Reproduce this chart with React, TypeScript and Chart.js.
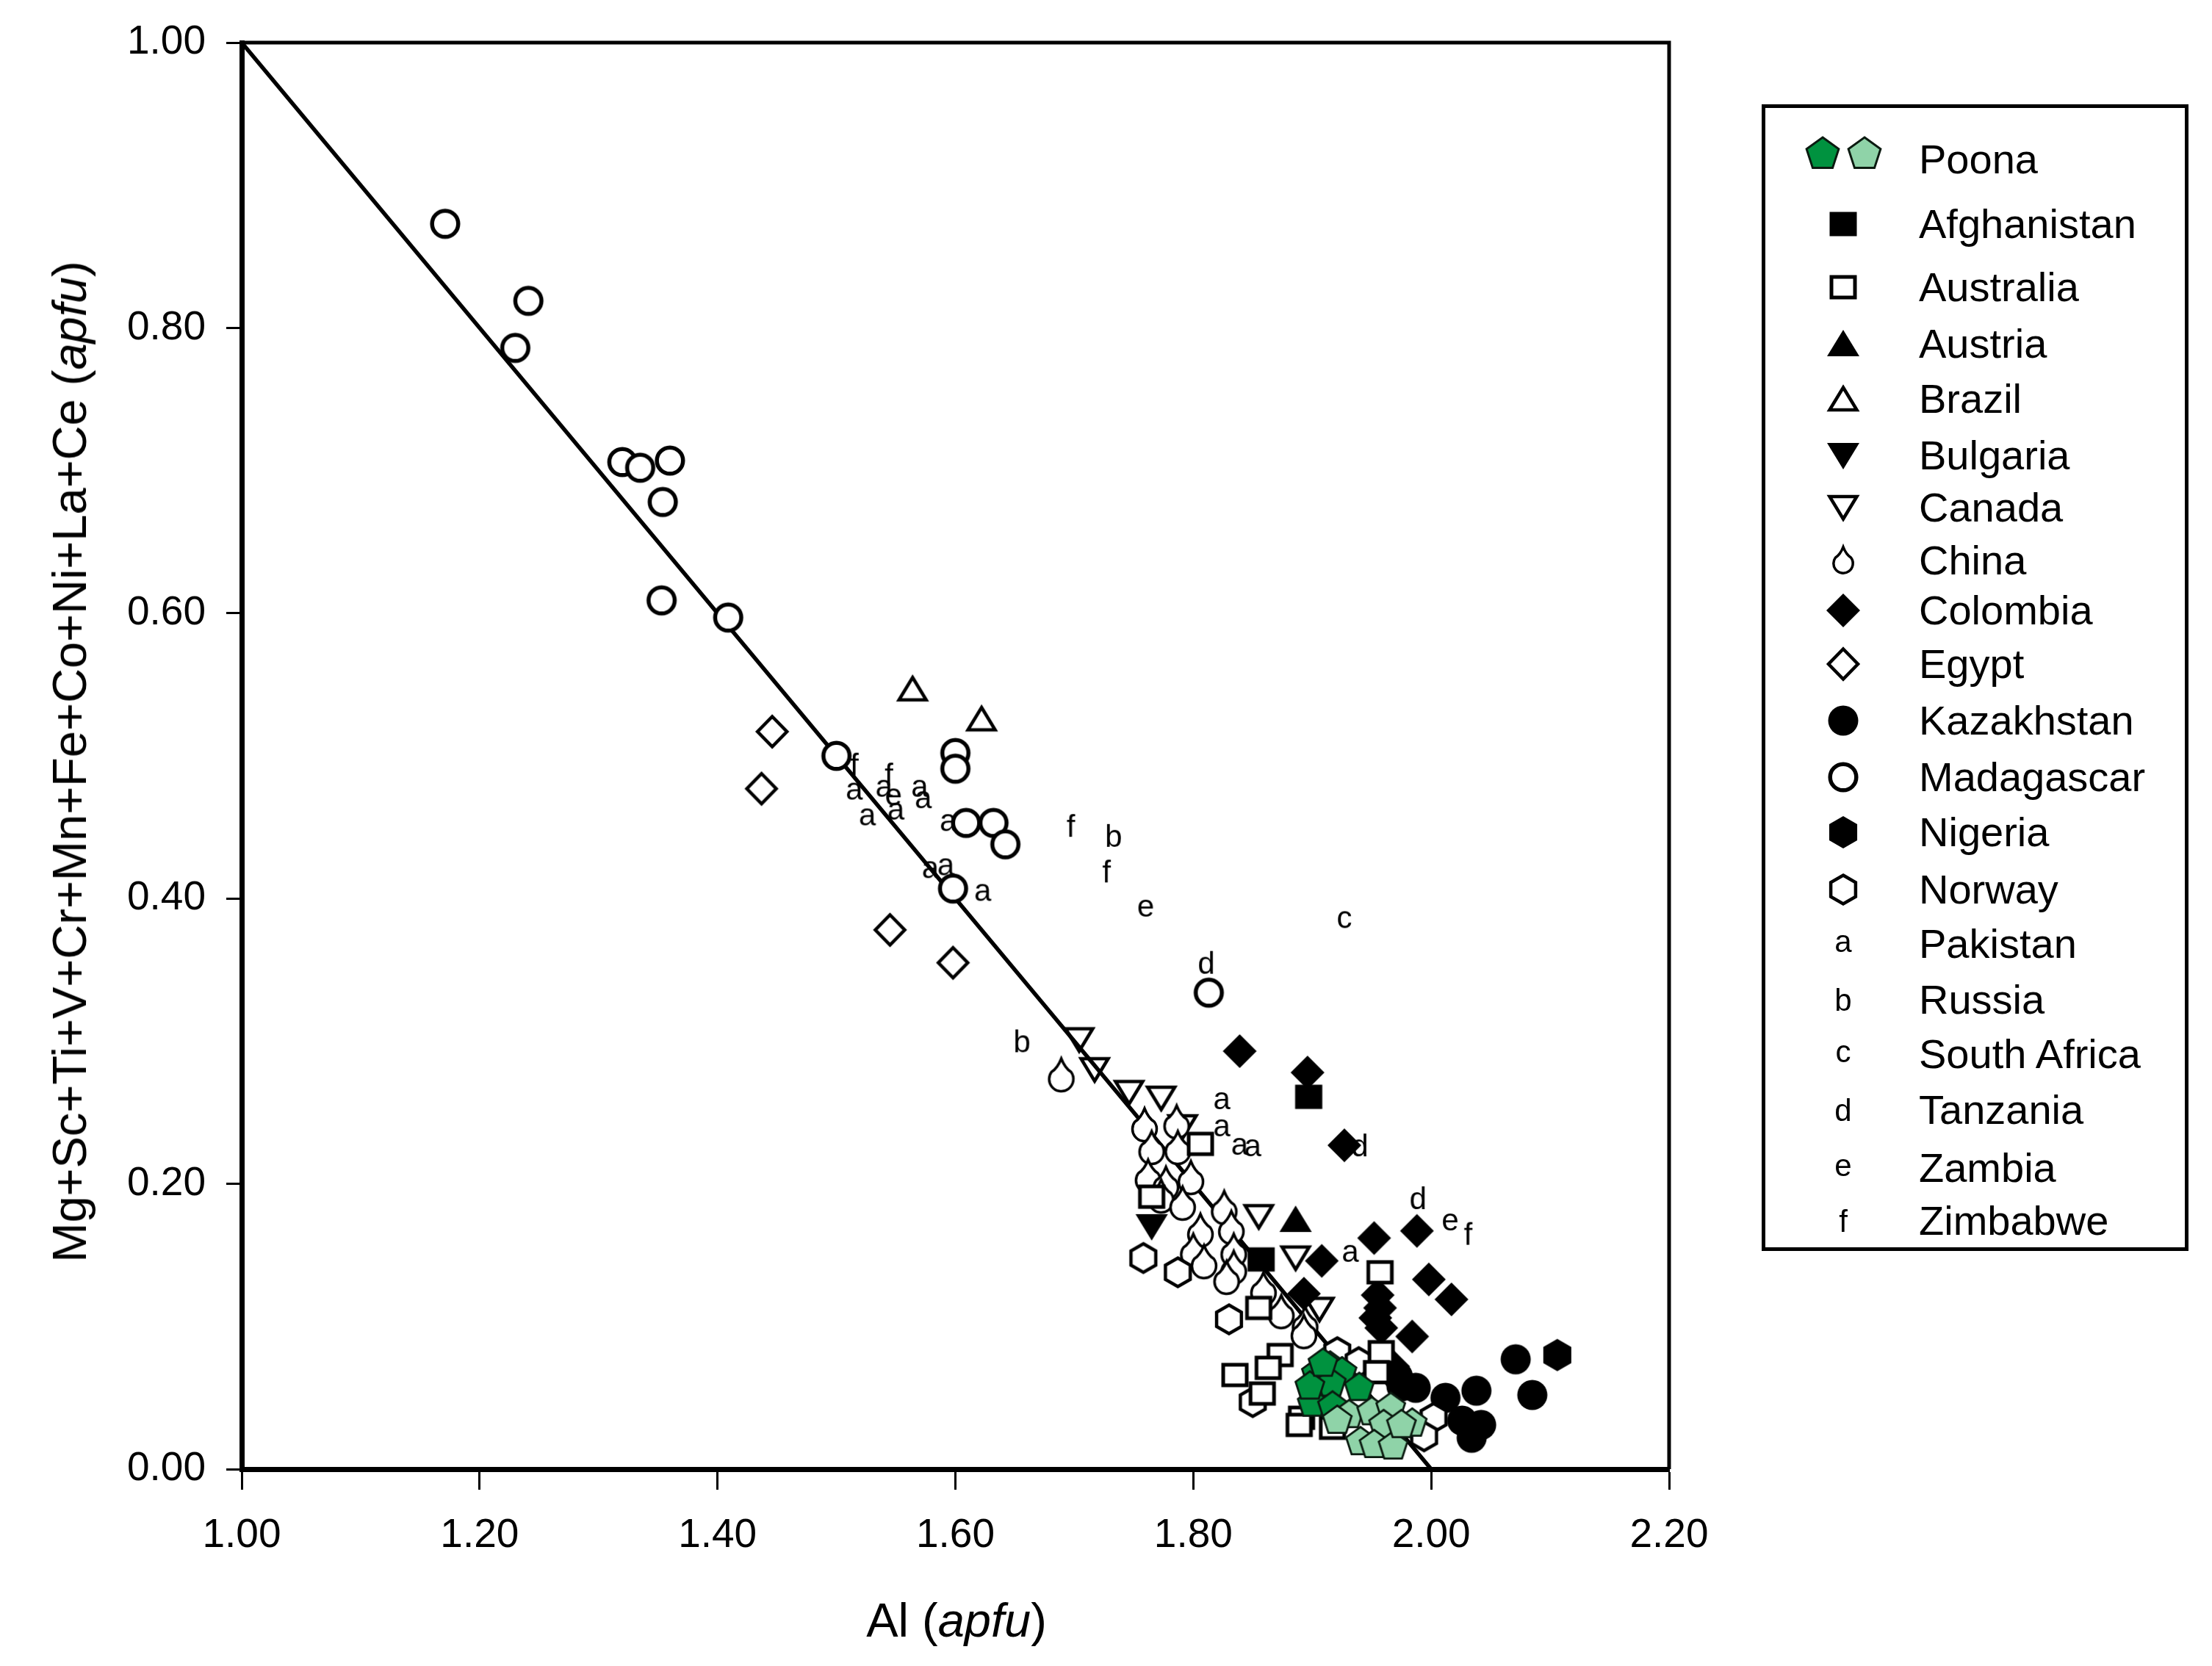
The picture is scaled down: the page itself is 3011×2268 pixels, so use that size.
import React, { useEffect, useMemo, useRef } from "react";
import { Chart, registerables } from "chart.js";

Chart.register(...registerables);

type Pt = [number, number];

const FONT = '"Liberation Sans", Arial, Helvetica, sans-serif';

// ---- axes ----
const xTickValues = [1.0, 1.2, 1.4, 1.6, 1.8, 2.0, 2.2];
const yTickValues = [0.0, 0.2, 0.4, 0.6, 0.8, 1.0];
const referenceLine: Pt[] = [[1.0, 1.0], [2.0, 0.0]];

// ---- data: [Al apfu, sum of other cations apfu] ----
const poonaDark: Pt[] = [
  [1.9035, 0.067], [1.915, 0.072], [1.925, 0.068], [1.916, 0.060], [1.9395, 0.057],
  [1.900, 0.046], [1.917, 0.044], [1.898, 0.058], [1.909, 0.074],
];
const poonaLight: Pt[] = [
  [1.931, 0.038], [1.950, 0.040], [1.966, 0.043], [1.984, 0.032], [1.960, 0.031],
  [1.9405, 0.019], [1.952, 0.017], [1.968, 0.016], [1.921, 0.034], [1.975, 0.031],
];
const afghanistan: Pt[] = [[1.897, 0.261], [1.857, 0.147]];
const australia: Pt[] = [
  [1.806, 0.228], [1.765, 0.191], [1.855, 0.113], [1.957, 0.138], [1.958, 0.082],
  [1.954, 0.068], [1.873, 0.080], [1.863, 0.071], [1.835, 0.066], [1.858, 0.053],
  [1.891, 0.036], [1.889, 0.031], [1.917, 0.029],
];
const austria: Pt[] = [[1.886, 0.175]];
const brazil: Pt[] = [[1.564, 0.547], [1.622, 0.526]];
const bulgaria: Pt[] = [[1.765, 0.170]];
const canada: Pt[] = [
  [1.704, 0.301], [1.717, 0.280], [1.746, 0.264], [1.773, 0.260], [1.791, 0.240],
  [1.855, 0.177], [1.886, 0.148], [1.906, 0.112],
];
const china: Pt[] = [
  [1.689, 0.276], [1.759, 0.241], [1.786, 0.243], [1.765, 0.225], [1.787, 0.225],
  [1.762, 0.205], [1.777, 0.200], [1.798, 0.204], [1.773, 0.191], [1.791, 0.186],
  [1.826, 0.183], [1.806, 0.167], [1.832, 0.169], [1.800, 0.153], [1.809, 0.145],
  [1.834, 0.153], [1.834, 0.141], [1.828, 0.134], [1.859, 0.126], [1.874, 0.110],
  [1.894, 0.102], [1.893, 0.096],
];
const colombia: Pt[] = [
  [1.839, 0.293], [1.896, 0.278], [1.927, 0.227], [1.952, 0.162], [1.988, 0.167],
  [1.908, 0.146], [1.998, 0.133], [2.017, 0.119], [1.893, 0.123], [1.955, 0.122],
  [1.957, 0.113], [1.953, 0.106], [1.958, 0.099], [1.984, 0.093], [1.968, 0.072],
];
const egypt: Pt[] = [[1.446, 0.517], [1.437, 0.477], [1.545, 0.378], [1.598, 0.355]];
const kazakhstan: Pt[] = [
  [2.071, 0.077], [2.085, 0.052], [2.038, 0.055], [2.012, 0.050], [1.987, 0.057],
  [1.975, 0.058], [2.026, 0.034], [2.042, 0.031], [2.034, 0.022], [1.972, 0.065],
];
const madagascar: Pt[] = [
  [1.171, 0.873], [1.230, 0.786], [1.241, 0.819], [1.320, 0.706], [1.335, 0.702],
  [1.360, 0.707], [1.354, 0.678], [1.353, 0.609], [1.409, 0.597], [1.500, 0.500],
  [1.600, 0.502], [1.600, 0.491], [1.609, 0.453], [1.632, 0.453], [1.642, 0.438],
  [1.598, 0.407], [1.813, 0.334],
];
const nigeria: Pt[] = [[2.106, 0.080]];
const norway: Pt[] = [
  [1.758, 0.148], [1.787, 0.138], [1.830, 0.105], [1.850, 0.047], [1.921, 0.082],
  [1.939, 0.075], [2.002, 0.036], [1.994, 0.023],
];
const pakistan: Pt[] = [
  [1.515, 0.475], [1.540, 0.477], [1.570, 0.477], [1.573, 0.469], [1.526, 0.457],
  [1.550, 0.461], [1.594, 0.453], [1.579, 0.420], [1.592, 0.422], [1.623, 0.404],
  [1.824, 0.258], [1.824, 0.239], [1.839, 0.226], [1.850, 0.225], [1.932, 0.151],
];
const russia: Pt[] = [[1.733, 0.444], [1.656, 0.300]];
const southAfrica: Pt[] = [[1.927, 0.385]];
const tanzania: Pt[] = [[1.811, 0.355], [1.940, 0.227], [1.989, 0.190]];
const zambia: Pt[] = [[1.548, 0.471], [1.760, 0.393], [2.016, 0.173]];
const zimbabwe: Pt[] = [[1.515, 0.494], [1.544, 0.487], [1.697, 0.451], [1.727, 0.419], [2.031, 0.165]];

// drawing order: first = on top
const seriesList: { label: string; data: Pt[]; marker: string }[] = [
  { label: "Poona (light)", data: poonaLight, marker: "pentLight" },
  { label: "Poona (dark)", data: poonaDark, marker: "pentDark" },
  { label: "Australia", data: australia, marker: "squareOpen" },
  { label: "Norway", data: norway, marker: "hexOpen" },
  { label: "Kazakhstan", data: kazakhstan, marker: "circleFill" },
  { label: "Nigeria", data: nigeria, marker: "hexFill" },
  { label: "Colombia", data: colombia, marker: "diamondFill" },
  { label: "Afghanistan", data: afghanistan, marker: "squareFill" },
  { label: "Austria", data: austria, marker: "triUpFill" },
  { label: "China", data: china, marker: "drop" },
  { label: "Madagascar", data: madagascar, marker: "circleOpen" },
  { label: "__line__", data: referenceLine, marker: "" },
  { label: "Canada", data: canada, marker: "triDownOpen" },
  { label: "Bulgaria", data: bulgaria, marker: "triDownFill" },
  { label: "Brazil", data: brazil, marker: "triUpOpen" },
  { label: "Egypt", data: egypt, marker: "diamondOpen" },
  { label: "Pakistan", data: pakistan, marker: "a" },
  { label: "Russia", data: russia, marker: "b" },
  { label: "South Africa", data: southAfrica, marker: "c" },
  { label: "Tanzania", data: tanzania, marker: "d" },
  { label: "Zambia", data: zambia, marker: "e" },
  { label: "Zimbabwe", data: zimbabwe, marker: "f" },
];

const legendEntries: { label: string; markers: string[] }[] = [
  { label: "Poona", markers: ["pentDarkL", "pentLightL"] },
  { label: "Afghanistan", markers: ["squareFill"] },
  { label: "Australia", markers: ["squareOpen"] },
  { label: "Austria", markers: ["triUpFill"] },
  { label: "Brazil", markers: ["triUpOpen"] },
  { label: "Bulgaria", markers: ["triDownFill"] },
  { label: "Canada", markers: ["triDownOpen"] },
  { label: "China", markers: ["dropL"] },
  { label: "Colombia", markers: ["diamondFill"] },
  { label: "Egypt", markers: ["diamondOpen"] },
  { label: "Kazakhstan", markers: ["circleFill"] },
  { label: "Madagascar", markers: ["circleOpen"] },
  { label: "Nigeria", markers: ["hexFill"] },
  { label: "Norway", markers: ["hexOpen"] },
  { label: "Pakistan", markers: ["a"] },
  { label: "Russia", markers: ["b"] },
  { label: "South Africa", markers: ["c"] },
  { label: "Tanzania", markers: ["d"] },
  { label: "Zambia", markers: ["e"] },
  { label: "Zimbabwe", markers: ["f"] },
];
// vertical centre of each legend row (layout, container px)
const legendRowCenters = [209, 297, 383, 460, 535, 612, 683, 755, 823, 896, 973, 1050, 1125, 1203, 1277, 1353, 1427, 1503, 1582, 1654];

const MARKER_KINDS = [
  "pentDark", "pentLight", "pentDarkL", "pentLightL", "squareFill", "squareOpen", "triUpFill", "triUpOpen",
  "triDownFill", "triDownOpen", "drop", "dropL", "diamondFill", "diamondOpen", "circleFill",
  "circleOpen", "hexFill", "hexOpen", "a", "b", "c", "d", "e", "f",
];

function buildMarker(kind: string): HTMLCanvasElement {
  const S = 64;
  const c = document.createElement("canvas");
  c.width = S;
  c.height = S;
  const ctx = c.getContext("2d")!;
  ctx.translate(S / 2, S / 2);
  ctx.lineJoin = "miter";
  const BLACK = "#000";
  const paint = (fill: string | null, stroke: string | null, lw: number) => {
    if (fill) { ctx.fillStyle = fill; ctx.fill(); }
    if (stroke) { ctx.strokeStyle = stroke; ctx.lineWidth = lw; ctx.stroke(); }
  };
  const poly = (pts: number[][]) => {
    ctx.beginPath();
    pts.forEach(([x, y], i) => (i ? ctx.lineTo(x, y) : ctx.moveTo(x, y)));
    ctx.closePath();
  };
  const reg = (n: number, r: number, rot: number) =>
    Array.from({ length: n }, (_, i) => [
      r * Math.cos(rot + (i * 2 * Math.PI) / n),
      r * Math.sin(rot + (i * 2 * Math.PI) / n),
    ]);
  const drop = (scale: number) => {
    const r = 16.5 * scale, cy = 5 * scale, ty = -23 * scale;
    const a0 = -Math.PI / 5;
    const px = r * Math.cos(a0), py = cy + r * Math.sin(a0);
    ctx.beginPath();
    ctx.moveTo(0, ty);
    ctx.quadraticCurveTo(5 * scale, -10 * scale, px, py);
    ctx.arc(0, cy, r, a0, Math.PI - a0, false);
    ctx.quadraticCurveTo(-5 * scale, -10 * scale, 0, ty);
    ctx.closePath();
    paint("#fff", BLACK, 3.5);
  };
  switch (kind) {
    case "pentDark":
      poly(reg(5, 20.5, -Math.PI / 2));
      paint("#00923f", "#0b1a10", 2.8);
      break;
    case "pentLight":
      poly(reg(5, 20.5, -Math.PI / 2));
      paint("#8fd3a8", "#0b1a10", 2.8);
      break;
    case "pentDarkL":
      poly(reg(5, 23, -Math.PI / 2));
      paint("#00923f", "#0b1a10", 3);
      break;
    case "pentLightL":
      poly(reg(5, 23, -Math.PI / 2));
      paint("#8fd3a8", "#0b1a10", 3);
      break;
    case "squareFill":
      poly([[-18.5, -16.5], [18.5, -16.5], [18.5, 16.5], [-18.5, 16.5]]);
      paint(BLACK, null, 0);
      break;
    case "squareOpen":
      poly([[-16, -14], [16, -14], [16, 14], [-16, 14]]);
      paint("#fff", BLACK, 5);
      break;
    case "triUpFill":
      poly([[0, -19], [22, 17], [-22, 17]]);
      paint(BLACK, null, 0);
      break;
    case "triUpOpen":
      poly([[0, -15.5], [18.5, 15], [-18.5, 15]]);
      paint("#fff", BLACK, 4.5);
      break;
    case "triDownFill":
      poly([[0, 19], [22, -17], [-22, -17]]);
      paint(BLACK, null, 0);
      break;
    case "triDownOpen":
      poly([[0, 15.5], [18.5, -15], [-18.5, -15]]);
      paint("#fff", BLACK, 4.5);
      break;
    case "drop":
      drop(1);
      break;
    case "dropL":
      drop(0.8);
      break;
    case "diamondFill":
      poly([[0, -23], [23, 0], [0, 23], [-23, 0]]);
      paint(BLACK, null, 0);
      break;
    case "diamondOpen":
      poly([[0, -20.5], [20, 0], [0, 20.5], [-20, 0]]);
      paint("#fff", BLACK, 4.5);
      break;
    case "circleFill":
      ctx.beginPath();
      ctx.arc(0, 0, 20.5, 0, Math.PI * 2);
      paint(BLACK, null, 0);
      break;
    case "circleOpen":
      ctx.beginPath();
      ctx.arc(0, 0, 17.8, 0, Math.PI * 2);
      paint("#fff", BLACK, 5.5);
      break;
    case "hexFill":
      poly(reg(6, 22, -Math.PI / 2));
      paint(BLACK, null, 0);
      break;
    case "hexOpen":
      poly(reg(6, 19.5, -Math.PI / 2));
      paint("#fff", BLACK, 4.5);
      break;
    default: {
      ctx.fillStyle = BLACK;
      ctx.font = `42px ${FONT}`;
      ctx.textAlign = "center";
      ctx.textBaseline = "alphabetic";
      const tall = kind === "b" || kind === "d" || kind === "f";
      ctx.fillText(kind, 0, tall ? 15 : 11);
    }
  }
  return c;
}

const framePlugin = {
  id: "frame",
  afterDraw(chart: any) {
    const { ctx, chartArea: a } = chart;
    ctx.save();
    ctx.strokeStyle = "#000";
    ctx.lineWidth = 5;
    ctx.beginPath();
    ctx.moveTo(a.left, a.top);
    ctx.lineTo(a.right, a.top);
    ctx.lineTo(a.right, a.bottom);
    ctx.stroke();
    ctx.restore();
  },
};

const W = 2995;
const H = 2250;

export default function App() {
  const canvasRef = useRef<HTMLCanvasElement>(null);
  const markers = useMemo(() => {
    const m: Record<string, HTMLCanvasElement> = {};
    for (const k of MARKER_KINDS) m[k] = buildMarker(k);
    return m;
  }, []);
  const icons = useMemo(() => {
    const m: Record<string, string> = {};
    for (const k of MARKER_KINDS) m[k] = markers[k].toDataURL();
    return m;
  }, [markers]);

  useEffect(() => {
    const canvas = canvasRef.current!;
    const datasets: any[] = seriesList.map((s, i) => {
      const data = s.data.map(([x, y]) => ({ x, y }));
      if (s.label === "__line__") {
        return {
          label: s.label, data, showLine: true, borderColor: "#000", borderWidth: 5.5,
          pointRadius: 0, pointHoverRadius: 0, order: i, fill: false,
        };
      }
      return {
        label: s.label, data, showLine: false, pointStyle: markers[s.marker],
        pointRadius: 20, pointHoverRadius: 20, order: i,
      };
    });
    const tickFont = { family: FONT, size: 55 };
    const chart = new Chart(canvas, {
      type: "scatter",
      data: { datasets },
      options: {
        animation: false,
        responsive: false,
        devicePixelRatio: 1,
        events: [],
        layout: { padding: { left: 0, right: 731, top: 50, bottom: 0 } },
        plugins: { legend: { display: false }, tooltip: { enabled: false } },
        scales: {
          x: {
            type: "linear",
            min: 1.0,
            max: 2.2,
            afterBuildTicks: (s: any) => { s.ticks = xTickValues.map((v) => ({ value: v })); },
            afterFit: (s: any) => { s.height = 258; s.paddingLeft = 0; s.paddingRight = 0; },
            grid: { drawOnChartArea: false, drawTicks: true, tickLength: 28, tickWidth: 3, tickColor: "#000" },
            border: { display: true, color: "#000", width: 7 },
            ticks: {
              color: "#000", font: tickFont, padding: 30, maxRotation: 0, autoSkip: false,
              callback: (v: any) => Number(v).toFixed(2),
            },
          },
          y: {
            type: "linear",
            min: 0,
            max: 1.0,
            afterBuildTicks: (s: any) => { s.ticks = yTickValues.map((v) => ({ value: v })); },
            afterFit: (s: any) => { s.width = 321; s.paddingTop = 0; s.paddingBottom = 0; },
            grid: { drawOnChartArea: false, drawTicks: true, tickLength: 21, tickWidth: 3, tickColor: "#000" },
            border: { display: true, color: "#000", width: 7 },
            ticks: {
              color: "#000", font: tickFont, padding: 28, autoSkip: false,
              callback: (v: any) => Number(v).toFixed(2),
            },
          },
        },
      } as any,
      plugins: [framePlugin],
    });
    return () => chart.destroy();
  }, [markers]);

  return (
    <div style={{ position: "relative", width: W, height: H, fontFamily: FONT, color: "#000" }}>
      <canvas ref={canvasRef} width={W} height={H} style={{ position: "absolute", left: 0, top: 0 }} />
      <div
        style={{
          position: "absolute", left: 87, top: 1029, transform: "translate(-50%, -50%) rotate(-90deg)",
          whiteSpace: "nowrap", fontSize: 65, lineHeight: "70px",
        }}
      >
        Mg+Sc+Ti+V+Cr+Mn+Fe+Co+Ni+La+Ce (<i>apfu</i>)
      </div>
      <div
        style={{
          position: "absolute", left: 1294, top: 2198, transform: "translate(-50%, -50%)",
          whiteSpace: "nowrap", fontSize: 65, lineHeight: "70px",
        }}
      >
        Al (<i>apfu</i>)
      </div>
      <div
        style={{
          position: "absolute", left: 2390, top: 134, width: 581, height: 1561,
          border: "5px solid #000", boxSizing: "border-box",
        }}
      />
      {legendEntries.map((e, i) => {
        const cy = legendRowCenters[i];
        const two = e.markers.length === 2;
        const xs = two ? [2473, 2530] : [2501];
        const iconY = two ? cy - 7 : cy;
        return (
          <React.Fragment key={e.label}>
            {e.markers.map((m, j) => (
              <img
                key={m}
                src={icons[m]}
                width={64}
                height={64}
                style={{ position: "absolute", left: xs[j] - 32, top: iconY - 32 }}
                alt=""
              />
            ))}
            <div
              style={{
                position: "absolute", left: 2604, top: cy - 30, height: 60, lineHeight: "60px",
                fontSize: 56, whiteSpace: "nowrap",
              }}
            >
              {e.label}
            </div>
          </React.Fragment>
        );
      })}
    </div>
  );
}
